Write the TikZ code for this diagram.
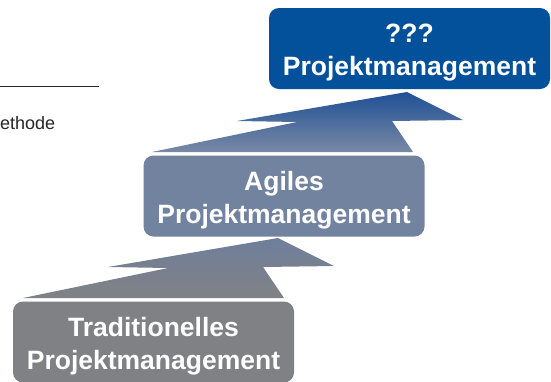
\documentclass[tikz,border=0pt]{standalone}
\usepackage{fontspec}
\setmainfont{Liberation Sans}
\definecolor{pmblue}{HTML}{03509B}
\definecolor{pmslate}{HTML}{7283A0}
\definecolor{pmgrey}{HTML}{808185}
\definecolor{pmmid}{HTML}{1F5096}
\tikzset{
    stufe/.style={rectangle, rounded corners=10pt, minimum width=281pt,
        minimum height=81pt, inner sep=0pt},
    stufetext/.style={align=center, text=white, inner sep=0pt,
        font=\fontsize{26.5}{33}\selectfont\bfseries},
}
\begin{document}
\begin{tikzpicture}[x=1pt, y=-1pt]
    \useasboundingbox (0,0) rectangle (551,381);

    % upper step
    \shade [top color=pmmid, bottom color=pmslate!95!white] (152,152) -- (297,122) -- (237,121) -- (407,92)
        -- (463,120) -- (392,121) -- (413,152) -- cycle;
    % lower step
    \shade [top color=pmslate!97!black, bottom color=pmgrey] (23,298) -- (168,268) -- (108,267) -- (278,238)
        -- (334,266) -- (263,267) -- (284,298) -- cycle;

    \node [stufe, fill=pmblue] (neu) at (409.5,48.5) {};
    \node [stufe, fill=pmslate] (agil) at (284,196) {};
    \node [stufe, fill=pmgrey] (trad) at (153.5,342) {};
    \node [stufetext] (neutext) at ([yshift=-4pt]neu.center) {???\\Projektmanagement};
    \node [stufetext] (agiltext) at ([yshift=-4pt]agil.center) {Agiles\\Projektmanagement};
    \node [stufetext] (tradtext) at ([yshift=-4pt]trad.center) {Traditionelles\\Projektmanagement};

    \draw [line width=0.8pt, black!85] (0,86) -- (99,86);
    \node [anchor=base west, inner sep=0pt, font=\fontsize{18}{20}\selectfont, black!85] (methode) at (0,129) {ethode};
\end{tikzpicture}
\end{document}
